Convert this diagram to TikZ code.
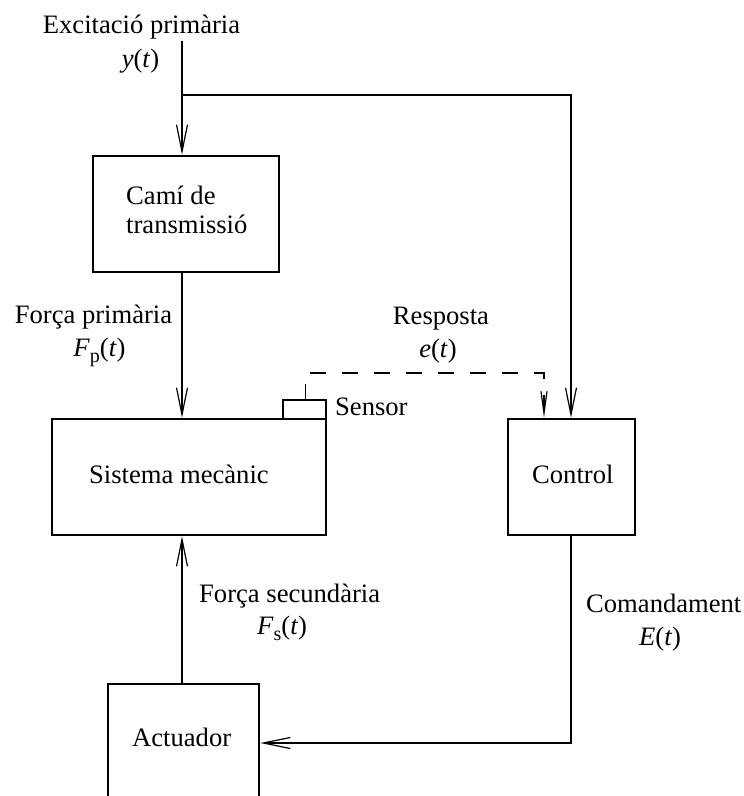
\documentclass[tikz,border=0pt]{standalone}
\usepackage{fontspec}
\setmainfont{Liberation Serif}
\usetikzlibrary{arrows.meta}
\newcommand{\subtxt}[1]{\raisebox{-0.24em}{\fontsize{20}{20}\selectfont #1}}
\begin{document}
\begin{tikzpicture}[x=1pt,y=-1pt,
  every node/.style={font=\fontsize{26.6}{30}\selectfont},
  box/.style={draw, line width=2.6pt, inner sep=0pt},
  lbl/.style={inner sep=0pt, anchor=base},
  lblw/.style={inner sep=0pt, anchor=base west},
  conn/.style={line width=1.2pt},
  arr/.style={conn, -{Straight Barb[length=27pt,width=11pt]}},
  darr/.style={conn, dash pattern=on 16pt off 16pt, -{Straight Barb[length=22pt,width=6pt]}}]
\clip (0,0) rectangle (744,796);
% boxes
\node[box, minimum width=186pt, minimum height=116pt] (cami) at (186,214) {};
\node[box, minimum width=274pt, minimum height=116pt] (sist) at (189,477) {};
\node[box, minimum width=127pt, minimum height=116pt] (ctrl) at (571.5,477) {};
\node[box, minimum width=151pt, minimum height=140pt] (act) at (183.5,754) {};
\node[draw, line width=2pt, inner sep=0pt, minimum width=43pt, minimum height=19pt] (sens) at (304.5,409) {};
% texts
\node[lblw] (cam1) at (126,204) {Camí de};
\node[lblw] (cam2) at (126,233) {transmissió};
\node[lblw] (sisttxt) at (89,483) {Sistema mecànic};
\node[lblw] (ctrltxt) at (532,483) {Control};
\node[lblw] (acttxt) at (132,746) {Actuador};
\node[lblw] (senstxt) at (335,415) {Sensor};
\node[lbl] (exc) at (141.5,33) {Excitació primària};
\node[lbl] (yt) at (140.5,67) {\textit{y}(\textit{t})};
\node[lbl] (fp) at (93.5,323) {Força primària};
\node[lbl] (fpt) at (99.5,356) {\textit{F}\subtxt{p}(\textit{t})};
\node[lbl] (resp) at (441,324) {Resposta};
\node[lbl] (et) at (438,357) {\textit{e}(\textit{t})};
\node[lblw] (fs) at (199,602) {Força secundària};
\node[lblw] (fst) at (257,634) {\textit{F}\subtxt{s}(\textit{t})};
\node[lblw] (com) at (586,612) {Comandament};
\node[lblw] (cet) at (639,645) {\textit{E}(\textit{t})};
% coordinates
\coordinate (in) at (182,41);
\coordinate (br) at (182,95);
\coordinate (xc) at (571,0);
\coordinate (xd) at (544,0);
\coordinate (ya) at (0,743);
\coordinate (stk) at (305,384);
\coordinate (ds) at (310,373);
% connectors
\draw[arr] (in) -- (in |- cami.north);
\draw[arr] (br) -| (xc |- ctrl.north);
\draw[arr] (in |- cami.south) -- (in |- sist.north);
\draw[arr] (in |- act.north) -- (in |- sist.south);
\draw[arr] (xc |- ctrl.south) |- (act.east |- ya);
\draw[line width=1pt] (stk) -- (stk |- sens.north);
\draw[darr] (ds) -| (xd |- ctrl.north);
\end{tikzpicture}
\end{document}
